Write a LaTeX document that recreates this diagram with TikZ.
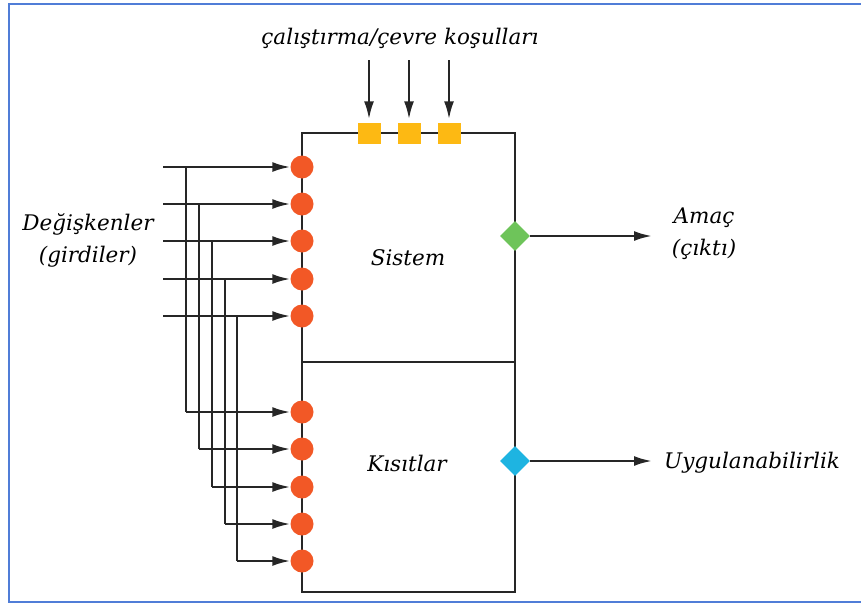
\documentclass[tikz,border=0pt]{standalone}
\usepackage{fontspec}
\setmainfont{DejaVu Serif}
\usetikzlibrary{arrows.meta,shapes.geometric}
\definecolor{dotcol}{RGB}{242,88,38}
\definecolor{sqcol}{RGB}{253,185,19}
\definecolor{gcol}{RGB}{110,196,90}
\definecolor{bcol}{RGB}{30,180,225}
\definecolor{bordcol}{RGB}{80,125,215}
\tikzset{
  frame/.style={draw=bordcol,line width=2pt},
  boxline/.style={draw=black!85,line width=2.6pt},
  arr/.style={draw=black!85,line width=2.4pt,-{Latex[length=18pt,width=10pt]}},
  branch/.style={draw=black!85,line width=1.5pt},
  dotc/.style={circle,fill=dotcol,minimum size=23pt,inner sep=0pt},
  sqn/.style={rectangle,fill=sqcol,minimum width=23pt,minimum height=21pt,inner sep=0pt},
  dia/.style={diamond,minimum size=30pt,inner sep=0pt},
  lbl/.style={font=\fontsize{21.5}{32}\selectfont\itshape,inner sep=0pt,align=center}
}
\begin{document}
\begin{tikzpicture}[x=1pt,y=-1pt]
\useasboundingbox (0,0) rectangle (861,605);
\begin{scope}
\clip (0,0) rectangle (861,605);
\draw[frame] (9,4) rectangle (872,602);
\end{scope}
% box
\coordinate (tl) at (302,133);
\coordinate (tr) at (515,133);
\coordinate (br) at (515,592);
\coordinate (bl) at (302,592);
\coordinate (ml) at (302,362);
\coordinate (mr) at (515,362);
\draw[boxline] (tl) -- (tr) -- (br) -- (bl) -- cycle;
\draw[boxline] (ml) -- (mr);
% top squares and arrows
\foreach \i/\x in {1/369,2/409,3/449}{
  \node[sqn] (q\i) at (\x,133) {};
  \coordinate (t\i) at (\x,60);
  \draw[arr,shorten >=3pt] (t\i) -- (q\i.north);
}
% inputs
\foreach \i/\y/\x/\yy in {1/167/186/412,2/204/199/449,3/241/212/487,4/279/225/524,5/316/237/561}{
  \coordinate (s\i) at (163,\y);
  \node[dotc] (c\i) at (302,\y) {};
  \draw[arr] (s\i) -- (c\i.west);
  \coordinate (b\i) at (\x,\y);
  \coordinate (k\i) at (\x,\yy);
  \node[dotc] (d\i) at (302,\yy) {};
  \draw[branch] (b\i) -- (k\i);
  \draw[arr] (k\i) -- (d\i.west);
}
% outputs
\node[dia,fill=gcol] (g) at (515,236) {};
\coordinate (ge) at (652,236);
\draw[arr] (g.east) -- (ge);
\node[dia,fill=bcol] (bd) at (515,461) {};
\coordinate (be) at (652,461);
\draw[arr] (bd.east) -- (be);
% labels
\node[lbl] (top) at (400,38) {çalıştırma/çevre koşulları};
\node[lbl] (deg) at (88,240) {Değişkenler\\(girdiler)};
\node[lbl] (sis) at (408,258) {Sistem};
\node[lbl] (kis) at (407,463) {Kısıtlar};
\node[lbl] (ama) at (704,234) {Amaç\\(çıktı)};
\node[lbl,anchor=west] (uyg) at (664,463) {Uygulanabilirlik};
\end{tikzpicture}
\end{document}
